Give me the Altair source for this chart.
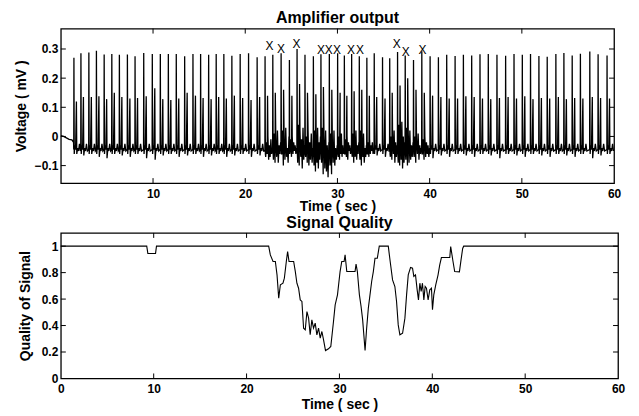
import altair as alt
import pandas as pd

# ---------------- Amplifier output (top panel) ----------------
# leading baseline before first beat
lead_t = [0.0, 0.3, 0.6, 0.9, 1.2, 1.38]
lead_v = [0.003, 0.0, -0.005, -0.01, -0.012, -0.02]

# R-peak times (s)
beat_t = [1.42, 2.18, 3.04, 3.86, 4.70, 5.53, 6.35, 7.22, 8.05, 8.99,
          9.92, 10.79, 11.66, 12.52, 13.43, 14.33, 15.16, 16.03, 16.85, 17.68,
          18.55, 19.45, 20.36, 21.29, 22.15, 22.99, 23.89, 24.79, 25.62, 26.48,
          27.39, 28.21, 29.12, 30.02, 30.75, 31.54, 32.37, 33.19, 33.99, 34.89,
          35.67, 36.52, 37.35, 38.25, 39.15, 40.05, 40.95, 41.85, 42.76, 43.66,
          44.56, 45.46, 46.36, 47.30, 48.24, 49.15, 50.05, 50.94, 51.85, 52.75,
          53.69, 54.56, 55.46, 56.35, 57.37, 58.27, 59.24]
# R-peak heights (mV)
beat_r = [0.270, 0.285, 0.288, 0.294, 0.281, 0.283, 0.280, 0.281, 0.275, 0.286,
          0.283, 0.283, 0.283, 0.283, 0.275, 0.283, 0.283, 0.280, 0.283, 0.283,
          0.277, 0.283, 0.285, 0.272, 0.275, 0.280, 0.285, 0.262, 0.300, 0.280,
          0.275, 0.282, 0.283, 0.285, 0.278, 0.283, 0.275, 0.270, 0.285, 0.272,
          0.268, 0.290, 0.278, 0.262, 0.292, 0.275, 0.272, 0.280, 0.276, 0.280,
          0.278, 0.282, 0.283, 0.280, 0.277, 0.283, 0.280, 0.283, 0.276, 0.273,
          0.283, 0.286, 0.278, 0.284, 0.291, 0.282, 0.278]
# secondary peak heights (mV)
beat_b = [0.120, 0.135, 0.135, 0.138, 0.128, 0.150, 0.135, 0.130, 0.132, 0.138,
          0.165, 0.128, 0.125, 0.130, 0.150, 0.140, 0.132, 0.128, 0.135, 0.130,
          0.140, 0.132, 0.125, 0.135, 0.140, 0.150, 0.160, 0.140, 0.180, 0.150,
          0.145, 0.170, 0.160, 0.150, 0.140, 0.155, 0.160, 0.140, 0.135, 0.130,
          0.150, 0.175, 0.200, 0.160, 0.150, 0.140, 0.135, 0.130, 0.130, 0.138,
          0.135, 0.130, 0.128, 0.132, 0.135, 0.130, 0.138, 0.128, 0.132, 0.130,
          0.135, 0.128, 0.132, 0.130, 0.135, 0.132, 0.130]
# trough after secondary peak (mV)
beat_trough = [-0.060, -0.065, -0.060, -0.070, -0.075, -0.060, -0.065, -0.070, -0.060, -0.075,
               -0.080, -0.065, -0.060, -0.070, -0.065, -0.060, -0.070, -0.065, -0.060, -0.070,
               -0.065, -0.060, -0.070, -0.065, -0.070, -0.070, -0.070, -0.070, -0.070, -0.070,
               -0.070, -0.070, -0.070, -0.070, -0.070, -0.070, -0.070, -0.070, -0.065, -0.070,
               -0.070, -0.070, -0.070, -0.070, -0.070, -0.075, -0.065, -0.070, -0.060, -0.065,
               -0.070, -0.060, -0.065, -0.075, -0.060, -0.065, -0.070, -0.060, -0.065, -0.070,
               -0.060, -0.065, -0.070, -0.060, -0.075, -0.065, -0.060]
# clean beat shape: offsets (s) and values (mV); R / B / T = per-beat slots
clean_dt = [-0.02, 0.0, 0.035, 0.10, 0.18, 0.27, 0.31, 0.40, 0.50, 0.60, 0.70]
clean_v = [-0.045, "R", -0.06, -0.03, -0.045, "B", "T", -0.04, -0.05, -0.025, -0.05]

# noisy inter-beat values (mV) for beats in the artefact period
noise_idx = [24, 25, 26, 27, 28, 29, 30, 31, 32, 33, 34, 35, 36, 37, 40, 41, 42, 43, 44]
noise_vals = [
    [-0.07, -0.02, -0.06, 0.00, -0.08, -0.03, -0.07, -0.01, -0.06, -0.04],
    [-0.08, 0.01, -0.09, -0.02, -0.07, 0.02, -0.09, -0.03, -0.06, -0.02],
    [-0.06, 0.02, -0.10, -0.01, -0.08, 0.03, -0.07, -0.04, -0.09, 0.00],
    [-0.05, -0.01, -0.07, 0.00, -0.06, -0.02, -0.05, -0.03, -0.06, -0.04],
    [-0.09, 0.04, -0.10, 0.02, -0.07, -0.01, -0.11, 0.03, -0.08, -0.03],
    [-0.07, 0.00, -0.09, 0.02, -0.10, -0.02, -0.08, 0.01, -0.09, -0.04],
    [-0.10, 0.02, -0.12, -0.01, -0.09, 0.03, -0.11, -0.02, -0.08, 0.00],
    [-0.09, 0.03, -0.13, 0.00, -0.11, 0.02, -0.12, -0.03, -0.14, -0.02],
    [-0.10, 0.01, -0.13, -0.02, -0.09, 0.02, -0.10, -0.04, -0.08, -0.03],
    [-0.07, 0.00, -0.08, -0.02, -0.06, 0.01, -0.07, -0.03, -0.06, -0.04],
    [-0.06, -0.01, -0.07, 0.00, -0.08, -0.02, -0.05, -0.03, -0.06, -0.04],
    [-0.07, 0.01, -0.09, -0.02, -0.07, 0.02, -0.08, -0.03, -0.06, -0.02],
    [-0.08, 0.02, -0.10, -0.01, -0.07, 0.01, -0.09, -0.04, -0.07, -0.03],
    [-0.06, -0.02, -0.07, -0.01, -0.06, -0.03, -0.05, -0.02, -0.06, -0.04],
    [-0.07, 0.00, -0.08, -0.01, -0.06, 0.02, -0.09, -0.02, -0.07, -0.03],
    [-0.09, 0.04, -0.10, 0.02, -0.08, 0.05, -0.11, 0.00, -0.09, -0.02],
    [-0.08, 0.03, -0.10, 0.01, -0.09, 0.02, -0.08, -0.03, -0.07, -0.02],
    [-0.07, 0.00, -0.09, -0.02, -0.06, 0.01, -0.08, -0.03, -0.06, -0.04],
    [-0.06, -0.01, -0.08, 0.00, -0.07, -0.02, -0.06, -0.03, -0.07, -0.04],
]

# "X" markers (poor-quality beats)
mark_t = [22.63, 23.89, 25.55, 28.22, 29.05, 29.95, 31.47, 32.45, 36.44, 37.41, 39.22]
mark_v = [0.311, 0.300, 0.317, 0.297, 0.297, 0.297, 0.297, 0.297, 0.317, 0.290, 0.297]

# ---------------- Signal quality (bottom panel) ----------------
q_t = [0.0, 9.25, 9.37, 10.2, 10.3, 22.38, 22.56, 22.85, 23.1, 23.28, 23.46, 23.64, 23.92,
       24.07, 24.28, 24.42, 24.57, 25.07, 25.25, 25.42, 25.6, 25.78, 25.96, 26.14, 26.32,
       26.5, 26.68, 26.85, 27.03, 27.21, 27.39, 27.57, 27.75, 27.93, 28.11, 28.29, 28.5,
       28.82, 29.07, 29.36, 29.54, 29.79, 30.07, 30.25, 30.5, 30.61, 30.79, 31.68, 31.79,
       31.93, 32.15, 32.33, 32.5, 32.76, 32.93, 33.11, 33.29, 33.47, 33.65, 33.83, 34.08,
       34.29, 35.26, 35.44, 35.72, 35.97, 36.15, 36.33, 36.51, 36.8, 37.05, 37.23, 37.41,
       37.66, 37.87, 38.01, 38.19, 38.37, 38.51, 38.66, 38.8, 38.94, 39.09, 39.23, 39.37,
       39.55, 39.73, 39.91, 40.02, 40.16, 40.37, 40.62, 40.8, 40.98, 41.88, 41.98, 42.23,
       42.41, 42.92, 43.09, 43.27, 43.38, 60.0]
q_v = [1.0, 1.0, 0.945, 0.945, 1.0, 1.0, 0.934, 0.884, 0.884, 0.783, 0.607, 0.708, 0.72,
       0.758, 0.884, 0.96, 0.884, 0.884, 0.808, 0.72, 0.682, 0.594, 0.582, 0.38, 0.368,
       0.506, 0.456, 0.33, 0.443, 0.38, 0.418, 0.33, 0.38, 0.305, 0.355, 0.292, 0.211,
       0.224, 0.242, 0.431, 0.556, 0.632, 0.808, 0.884, 0.884, 0.934, 0.808, 0.808, 0.864,
       0.808, 0.632, 0.544, 0.443, 0.211, 0.38, 0.531, 0.632, 0.733, 0.808, 0.909, 0.909,
       1.0, 1.0, 0.897, 0.745, 0.695, 0.582, 0.405, 0.33, 0.342, 0.456, 0.632, 0.783,
       0.839, 0.834, 0.771, 0.783, 0.67, 0.594, 0.72, 0.657, 0.72, 0.594, 0.695, 0.682,
       0.594, 0.67, 0.682, 0.519, 0.632, 0.708, 0.783, 0.859, 0.914, 0.914, 0.997, 0.884,
       0.808, 0.806, 0.894, 0.983, 1.0, 1.0]

top_xticks = [10, 20, 30, 40, 50, 60]
top_yticks = [-0.1, 0, 0.1, 0.2, 0.3]
bot_xticks = [0, 10, 20, 30, 40, 50, 60]
bot_yticks = [0, 0.2, 0.4, 0.6, 0.8, 1]

FONT = "Liberation Sans"

# ---- build ECG polyline ----
noise_map = dict(zip(noise_idx, noise_vals))
rows = list(zip(lead_t, lead_v))
for i, T in enumerate(beat_t):
    rr = beat_t[i + 1] - T if i + 1 < len(beat_t) else 0.9
    if i in noise_map:
        vals = noise_map[i]
        n = len(vals)
        rows += [(T - 0.02, -0.05), (T, beat_r[i]), (T + 0.035, -0.06)]
        pts = [(T + 0.07 + k * (rr - 0.12) / (n - 1), vals[k]) for k in range(n)]
        pts.append((T + 0.27, beat_b[i]))
        pts.sort()
        rows += pts
    else:
        for dt, v in zip(clean_dt, clean_v):
            if v == "R":
                v = beat_r[i]
            elif v == "B":
                v = beat_b[i]
            elif v == "T":
                v = beat_trough[i]
            rows.append((T + dt, v))
ecg = pd.DataFrame([r for r in rows if r[0] <= 60], columns=["t", "v"])
ecg["o"] = range(len(ecg))

marks = pd.DataFrame({"t": mark_t, "v": mark_v, "s": ["X"] * len(mark_t)})
qual = pd.DataFrame({"t": q_t, "q": q_v})

TW, TH = 555, 155
BW, BH = 559, 146
TL = 5

tx_scale = alt.Scale(domain=[0, 60], nice=False, zero=False)
ty_scale = alt.Scale(domain=[-0.16, 0.37], nice=False, zero=False)
bx_scale = alt.Scale(domain=[0, 60], nice=False, zero=False)
by_scale = alt.Scale(domain=[0, 1.1], nice=False, zero=False)

tx_axis = alt.Axis(values=top_xticks, title="Time ( sec )", labelFlush=False,
                   labelOverlap=False, titlePadding=0, labelPadding=5)
ty_axis = alt.Axis(values=top_yticks, format="~g", title="Voltage ( mV )",
                   labelOverlap=False, labelPadding=3, titlePadding=6)
bx_axis = alt.Axis(values=bot_xticks, title="Time ( sec )", labelFlush=False,
                   labelOverlap=False, titlePadding=3, labelPadding=5)
by_axis = alt.Axis(values=bot_yticks, format="~g", title="Quality of Signal",
                   labelOverlap=False, labelPadding=3, titlePadding=9)


def inward_ticks(xvals, yvals, xs_, ys_, xa, ya, W, H):
    xs = pd.DataFrame({"tx": xvals})
    ys = pd.DataFrame({"ty": yvals})
    lay = []
    for a, b in [(H, H - TL), (0, TL)]:
        lay.append(alt.Chart(xs).mark_rule(color="black", strokeWidth=1).encode(
            x=alt.X("tx:Q", scale=xs_, axis=xa), y=alt.value(a), y2=alt.value(b)))
    for a, b in [(0, TL), (W, W - TL)]:
        lay.append(alt.Chart(ys).mark_rule(color="black", strokeWidth=1).encode(
            y=alt.Y("ty:Q", scale=ys_, axis=ya), x=alt.value(a), x2=alt.value(b)))
    return lay


ecg_line = alt.Chart(ecg).mark_line(color="black", strokeWidth=1.3, clip=True).encode(
    x=alt.X("t:Q", scale=tx_scale, axis=tx_axis),
    y=alt.Y("v:Q", scale=ty_scale, axis=ty_axis),
    order="o:Q",
)
x_marks = alt.Chart(marks).mark_text(font=FONT, fontSize=12, color="black",
                                     baseline="middle", align="center").encode(
    x=alt.X("t:Q", scale=tx_scale, axis=tx_axis),
    y=alt.Y("v:Q", scale=ty_scale, axis=ty_axis),
    text="s:N")

top = alt.layer(ecg_line, x_marks,
                *inward_ticks(top_xticks[:-1], top_yticks, tx_scale, ty_scale,
                              tx_axis, ty_axis, TW, TH)).properties(
    width=TW, height=TH,
    title=alt.TitleParams("Amplifier output", fontSize=16, fontWeight="bold", font=FONT,
                          color="black", offset=2))

q_line = alt.Chart(qual).mark_line(color="black", strokeWidth=1.1).encode(
    x=alt.X("t:Q", scale=bx_scale, axis=bx_axis),
    y=alt.Y("q:Q", scale=by_scale, axis=by_axis),
)
bottom = alt.layer(q_line,
                   *inward_ticks(bot_xticks[1:-1], bot_yticks[1:], bx_scale, by_scale,
                                 bx_axis, by_axis, BW, BH)).properties(
    width=BW, height=BH,
    title=alt.TitleParams("Signal Quality", fontSize=16, fontWeight="bold", font=FONT,
                          color="black", offset=1))

chart = alt.vconcat(top, bottom, spacing=50, bounds="flush").resolve_scale(
    x="independent", y="independent").properties(
    padding={"left": 5, "top": 0, "right": 5, "bottom": 0}
).configure_view(stroke="black", strokeWidth=1.3).configure_axis(
    domain=False, ticks=False, tickSize=0, grid=False, labelOverlap=False,
    labelFont=FONT, labelFontSize=12, labelFontWeight="bold", labelColor="black",
    titleFont=FONT, titleFontSize=14, titleFontWeight="bold", titleColor="black",
).configure_title(anchor="middle")

chart.save("out.html", embed_options={"renderer": "svg", "actions": False})
